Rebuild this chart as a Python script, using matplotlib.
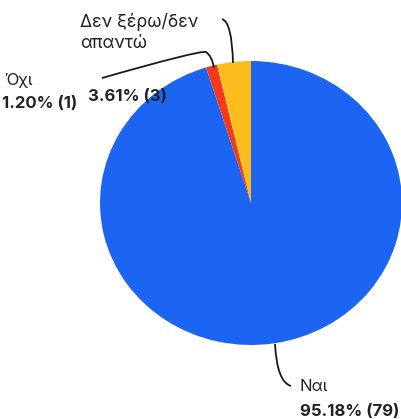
import matplotlib
matplotlib.use("Agg")
import matplotlib.pyplot as plt
import numpy as np
from matplotlib.path import Path
from matplotlib.patches import PathPatch

categories = ["Ναι", "Όχι", "Δεν ξέρω/δεν\nαπαντώ"]
counts = [79, 1, 3]
colors = ["#1c64f2", "#f23a1d", "#fbbd1e"]

W, H = 402, 419
fig = plt.figure(figsize=(W / 100, H / 100), dpi=100)
ax = fig.add_axes([0, 0, 1, 1])
plt.rcParams['font.family'] = ['Inter', 'DejaVu Sans']

# pixel geometry of the pie (ellipse slightly wider than tall)
cx, cy, rx, ry = 251, 203, 151, 142

wedges, _ = ax.pie(counts, colors=colors, startangle=90, counterclock=False,
                   radius=1, center=(0, 0), wedgeprops=dict(linewidth=0))
ax.set_aspect('auto')
ax.set_xlim((0 - cx) / rx, (W - cx) / rx)
ax.set_ylim((cy - H) / ry, cy / ry)
ax.axis('off')

def px(x, y):
    return ((x - cx) / rx, (cy - y) / ry)

total = sum(counts)
pct = [c / total * 100 for c in counts]

def curve(points):
    verts = [px(*p) for p in points]
    codes = [Path.MOVETO] + [Path.CURVE3, Path.CURVE3] * ((len(verts) - 1) // 2)
    ax.add_patch(PathPatch(Path(verts, codes), fill=False, lw=1.3, color="#1a1a1a"))

fs = 12
tc = "#222222"
# Yellow label
ax.text(*px(80, 22), "Δεν ξέρω/δεν", fontsize=12.8, va='center', ha='left', color=tc)
ax.text(*px(80, 43), "απαντώ", fontsize=12.8, va='center', ha='left', color=tc)
ax.text(*px(88, 96), f"{pct[2]:.2f}% ({counts[2]})", fontsize=fs, fontweight='bold',
        va='center', ha='left', color=tc)
# Red label
ax.text(*px(4, 80), "Όχι", fontsize=fs, va='center', ha='left', color=tc)
ax.text(*px(2, 103), f"{pct[1]:.2f}% ({counts[1]})", fontsize=fs, fontweight='bold',
        va='center', ha='left', color=tc)
# Blue label
ax.text(*px(300, 386), "Ναι", fontsize=fs, va='center', ha='left', color=tc)
ax.text(*px(300, 411), f"{pct[0]:.2f}% ({counts[0]})", fontsize=fs, fontweight='bold',
        va='center', ha='left', color=tc)

# leader lines
curve([(222, 19), (232, 22), (233, 63)])
curve([(102, 78), (200, 50), (206, 52), (212, 56), (214, 68)])
curve([(275, 344), (277, 382), (291, 386)])

fig.savefig("out.png", dpi=100)
